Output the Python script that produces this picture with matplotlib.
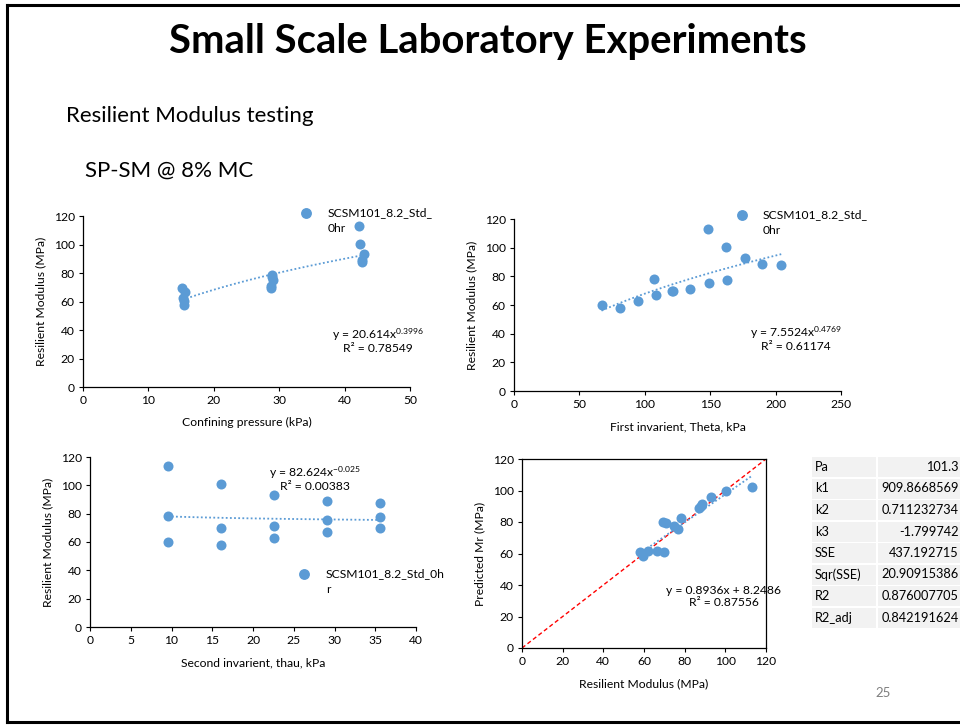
import matplotlib
matplotlib.use("Agg")
import matplotlib.pyplot as plt
from matplotlib.lines import Line2D
from matplotlib.patches import Rectangle
import numpy as np

plt.rcParams['font.family'] = ['Lato', 'DejaVu Sans']
plt.rcParams['mathtext.fontset'] = 'custom'
plt.rcParams['mathtext.rm'] = 'Lato'
plt.rcParams['mathtext.it'] = 'Lato'

# ---------------- data ----------------
confining = [15.4, 15.4, 15.3, 15.6, 15.2,
             28.9, 28.8, 28.8, 29.1, 28.9,
             42.2, 42.4, 42.9, 42.6, 42.7]
theta = [66.9, 81.0, 94.5, 108.3, 121.3,
         107.3, 121.0, 134.3, 149.1, 162.7,
         148.1, 161.9, 176.5, 189.5, 204.3]
tau = [9.53, 16.07, 22.58, 29.08, 35.62,
       9.53, 16.07, 22.58, 29.08, 35.62,
       9.53, 16.07, 22.58, 29.08, 35.62]
mr = [60.2, 57.8, 62.7, 66.9, 69.8,
      78.4, 69.8, 71.2, 75.4, 77.3,
      113.3, 100.6, 93.1, 88.9, 87.8]

measured_mr = [58.1, 59.4, 62.2, 66.6, 69.9, 69.1, 70.7, 74.9, 76.6, 78.2,
               87.1, 87.9, 88.7, 92.8, 100.2, 113.1]
predicted_mr = [60.9, 58.1, 61.3, 61.7, 61.1, 80.3, 79.1, 77.4, 75.5, 82.5,
                88.8, 89.9, 91.3, 95.8, 99.4, 102.5]

fit1 = (20.614, 0.3996, "0.78549")
fit2 = (7.5524, 0.4769, "0.61174")
fit3 = (82.624, -0.025, "0.00383")
fit4 = (0.8936, 8.2486, "0.87556")

table_labels = ["Pa", "k1", "k2", "k3", "SSE", "Sqr(SSE)", "R2", "R2_adj"]
table_values = ["101.3", "909.8668569", "0.711232734", "-1.799742", "437.192715",
                "20.90915386", "0.876007705", "0.842191624"]

series_name = "SCSM101_8.2_Std_0hr"

# ---------------- figure ----------------
W, H = 960, 725
fig = plt.figure(figsize=(W / 100, H / 100), dpi=100)
fig.patch.set_facecolor('white')

BLUE = '#5B9BD5'
FS = 8.7

def fx(x):
    return x / W

def fy(y):
    return 1 - y / H

def add_ax(l, t, r, b):
    return fig.add_axes([l / W, 1 - b / H, (r - l) / W, (b - t) / H])

def style(ax, xmax, xstep, full=False):
    ax.set_xlim(0, xmax)
    ax.set_ylim(0, 120)
    ax.set_xticks(np.arange(0, xmax + 0.1, xstep))
    ax.set_yticks(np.arange(0, 121, 20))
    for s in ['top', 'right']:
        ax.spines[s].set_visible(full)
    for s in ax.spines.values():
        s.set_linewidth(0.9)
        s.set_color('#000000')
    ax.tick_params(direction='out', length=3, width=0.8, labelsize=FS, pad=3,
                   colors='#000000')
    ax.patch.set_alpha(0)

def legend_at(mx, my, tx, lines):
    fig.add_artist(Line2D([fx(mx)], [fy(my)], transform=fig.transFigure,
                          marker='o', markersize=6.8, color=BLUE, linestyle='none'))
    for i, line in enumerate(lines):
        fig.text(fx(tx), fy(my + i * 15.5), line, fontsize=FS, va='center', ha='left')

def eq_text(cx, y1, y2, s1, s2):
    fig.text(fx(cx), fy(y1), s1, fontsize=FS, ha='center', va='center')
    fig.text(fx(cx), fy(y2), s2, fontsize=FS, ha='center', va='center')

# frame of the slide
fig.add_artist(Line2D([fx(7), fx(7)], [fy(5), fy(722)], transform=fig.transFigure, color='black', lw=2.2))
fig.add_artist(Line2D([fx(7), 1.0], [fy(5), fy(5)], transform=fig.transFigure, color='black', lw=2.2))
fig.add_artist(Line2D([fx(7), 1.0], [fy(722), fy(722)], transform=fig.transFigure, color='black', lw=2.2))

fig.text(fx(488), fy(42), "Small Scale Laboratory Experiments", fontsize=28.8,
         fontweight='bold', ha='center', va='center')
fig.text(fx(66), fy(116), "Resilient Modulus testing", fontsize=16, ha='left', va='center')
fig.text(fx(85), fy(171), "SP-SM @ 8% MC", fontsize=16, ha='left', va='center')
fig.text(fx(883), fy(693), "25", fontsize=9.5, ha='center', va='center', color='#7f7f7f')

# ---------------- panel 1 ----------------
ax1 = add_ax(83, 216, 410, 387)
style(ax1, 50, 10)
ax1.scatter(confining, mr, s=52, color=BLUE, zorder=3, linewidths=0)
xs = np.linspace(min(confining), max(confining), 100)
ax1.plot(xs, fit1[0] * xs ** fit1[1], color=BLUE, lw=1.3, ls=(0, (1, 1.3)))
ax1.set_xlabel("Confining pressure (kPa)", fontsize=FS, labelpad=8)
ax1.set_ylabel("Resilient Modulus (MPa)", fontsize=FS, labelpad=5)
legend_at(306, 213, 328, ["SCSM101_8.2_Std_", "0hr"])
eq_text(378, 335, 348, r"y = 20.614x$^{0.3996}$", "R² = " + fit1[2])

# ---------------- panel 2 ----------------
ax2 = add_ax(514, 219, 841, 391)
style(ax2, 250, 50)
ax2.scatter(theta, mr, s=52, color=BLUE, zorder=3, linewidths=0)
xs = np.linspace(min(theta), max(theta), 100)
ax2.plot(xs, fit2[0] * xs ** fit2[1], color=BLUE, lw=1.3, ls=(0, (1, 1.3)))
ax2.set_xlabel("First invarient, Theta, kPa", fontsize=FS, labelpad=8)
ax2.set_ylabel("Resilient Modulus (MPa)", fontsize=FS, labelpad=5)
legend_at(742, 215, 763, ["SCSM101_8.2_Std_", "0hr"])
eq_text(796, 333, 347, r"y = 7.5524x$^{0.4769}$", "R² = " + fit2[2])

# ---------------- panel 3 ----------------
ax3 = add_ax(90, 457, 416, 627)
style(ax3, 40, 5)
ax3.scatter(tau, mr, s=52, color=BLUE, zorder=3, linewidths=0)
xs = np.linspace(min(tau), max(tau), 100)
ax3.plot(xs, fit3[0] * xs ** fit3[1], color=BLUE, lw=1.3, ls=(0, (1, 1.3)))
ax3.set_xlabel("Second invarient, thau, kPa", fontsize=FS, labelpad=8)
ax3.set_ylabel("Resilient Modulus (MPa)", fontsize=FS, labelpad=5)
legend_at(304, 574, 326, ["SCSM101_8.2_Std_0h", "r"])
eq_text(315, 473, 487, r"y = 82.624x$^{-0.025}$", "R² = " + fit3[2])

# ---------------- panel 4 ----------------
ax4 = add_ax(522, 459, 766, 648)
style(ax4, 120, 20, full=True)
ax4.plot([0, 120], [0, 120], color='#FF0000', lw=1.0, ls=(0, (3, 2)), zorder=2)
ax4.scatter(measured_mr, predicted_mr, s=52, color=BLUE, zorder=3, linewidths=0)
xs = np.linspace(min(measured_mr), max(measured_mr), 100)
ax4.plot(xs, fit4[0] * xs + fit4[1], color=BLUE, lw=1.3, ls=(0, (1, 1.3)), zorder=2)
ax4.set_xlabel("Resilient Modulus (MPa)", fontsize=FS, labelpad=8)
ax4.set_ylabel("Predicted Mr (MPa)", fontsize=FS, labelpad=5)
eq_text(724, 590, 602, "y = 0.8936x + 8.2486", "R² = " + fit4[2])

# ---------------- table ----------------
row_h = 21.5
top0 = 457
for i, (lab, val) in enumerate(zip(table_labels, table_values)):
    t = top0 + i * row_h
    b = t + row_h - 1.5
    fig.add_artist(Rectangle((fx(812), fy(b)), (876 - 812) / W, (b - t) / H,
                             transform=fig.transFigure, facecolor='#f2f2f2', edgecolor='none'))
    fig.add_artist(Rectangle((fx(877.5), fy(b)), (962 - 877.5) / W, (b - t) / H,
                             transform=fig.transFigure, facecolor='#f2f2f2', edgecolor='none'))
    yc = (t + b) / 2
    fig.text(fx(815), fy(yc), lab, fontsize=9.2, ha='left', va='center')
    fig.text(fx(959), fy(yc), val, fontsize=9.2, ha='right', va='center')

fig.savefig("out.png", dpi=100, facecolor='white')
